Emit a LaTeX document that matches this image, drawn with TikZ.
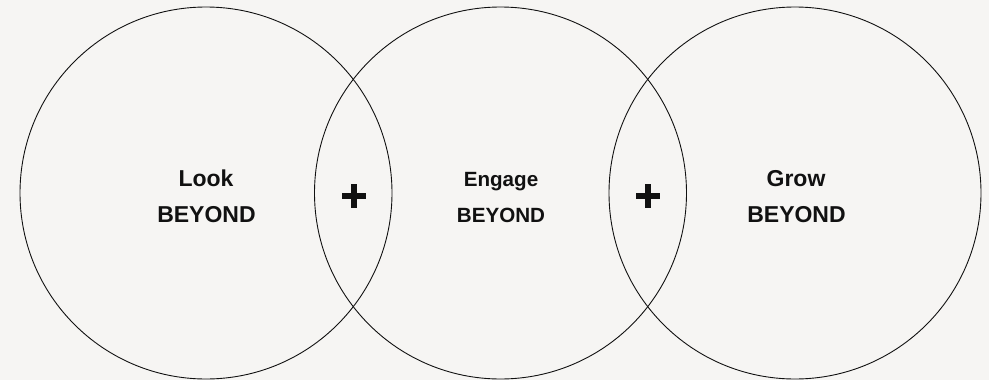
\documentclass[tikz,border=0pt]{standalone}
\usepackage{fontspec}
\setmainfont{Liberation Sans}
\definecolor{paper}{HTML}{F6F5F3}
\definecolor{ink}{HTML}{111111}
\begin{document}
\begin{tikzpicture}[x=1pt,y=-1pt,
  ring/.style={draw=ink,line width=0.9pt},
  big/.style={font=\fontsize{23}{23}\selectfont\bfseries,text=ink,anchor=base,inner sep=0pt},
  mid/.style={font=\fontsize{20.6}{20.6}\selectfont\bfseries,text=ink,anchor=base,inner sep=0pt},
  plusbar/.style={draw=ink,line width=6.5pt}]
  % page
  \fill[paper] (0,0) rectangle (989,380);
  \useasboundingbox (0,0) rectangle (989,380);

  % three overlapping circles
  \node[ring,circle,minimum size=372pt,inner sep=0pt] (c1) at (206,193) {};
  \node[ring,circle,minimum size=372pt,inner sep=0pt] (c2) at (500.5,193) {};
  \node[ring,circle,minimum size=372pt,inner sep=0pt] (c3) at (795,193) {};

  % labels
  \node[big] (t1a) at (206,186.7) {Look};
  \node[big] (t1b) at (206.5,222.7) {BEYOND};
  \node[mid] (t2a) at (501,186.7) {Engage};
  \node[mid] (t2b) at (501,222) {BEYOND};
  \node[big] (t3a) at (796,186.7) {Grow};
  \node[big] (t3b) at (796.5,222.7) {BEYOND};

  % plus signs in the overlaps
  \coordinate (p1) at (354,196);
  \coordinate (p2) at (648,196);
  \foreach \p in {p1,p2}{
    \draw[plusbar] ([xshift=-11.7pt]\p) -- ([xshift=11.7pt]\p);
    \draw[plusbar] ([yshift=-11.7pt]\p) -- ([yshift=11.7pt]\p);
  }
\end{tikzpicture}
\end{document}
